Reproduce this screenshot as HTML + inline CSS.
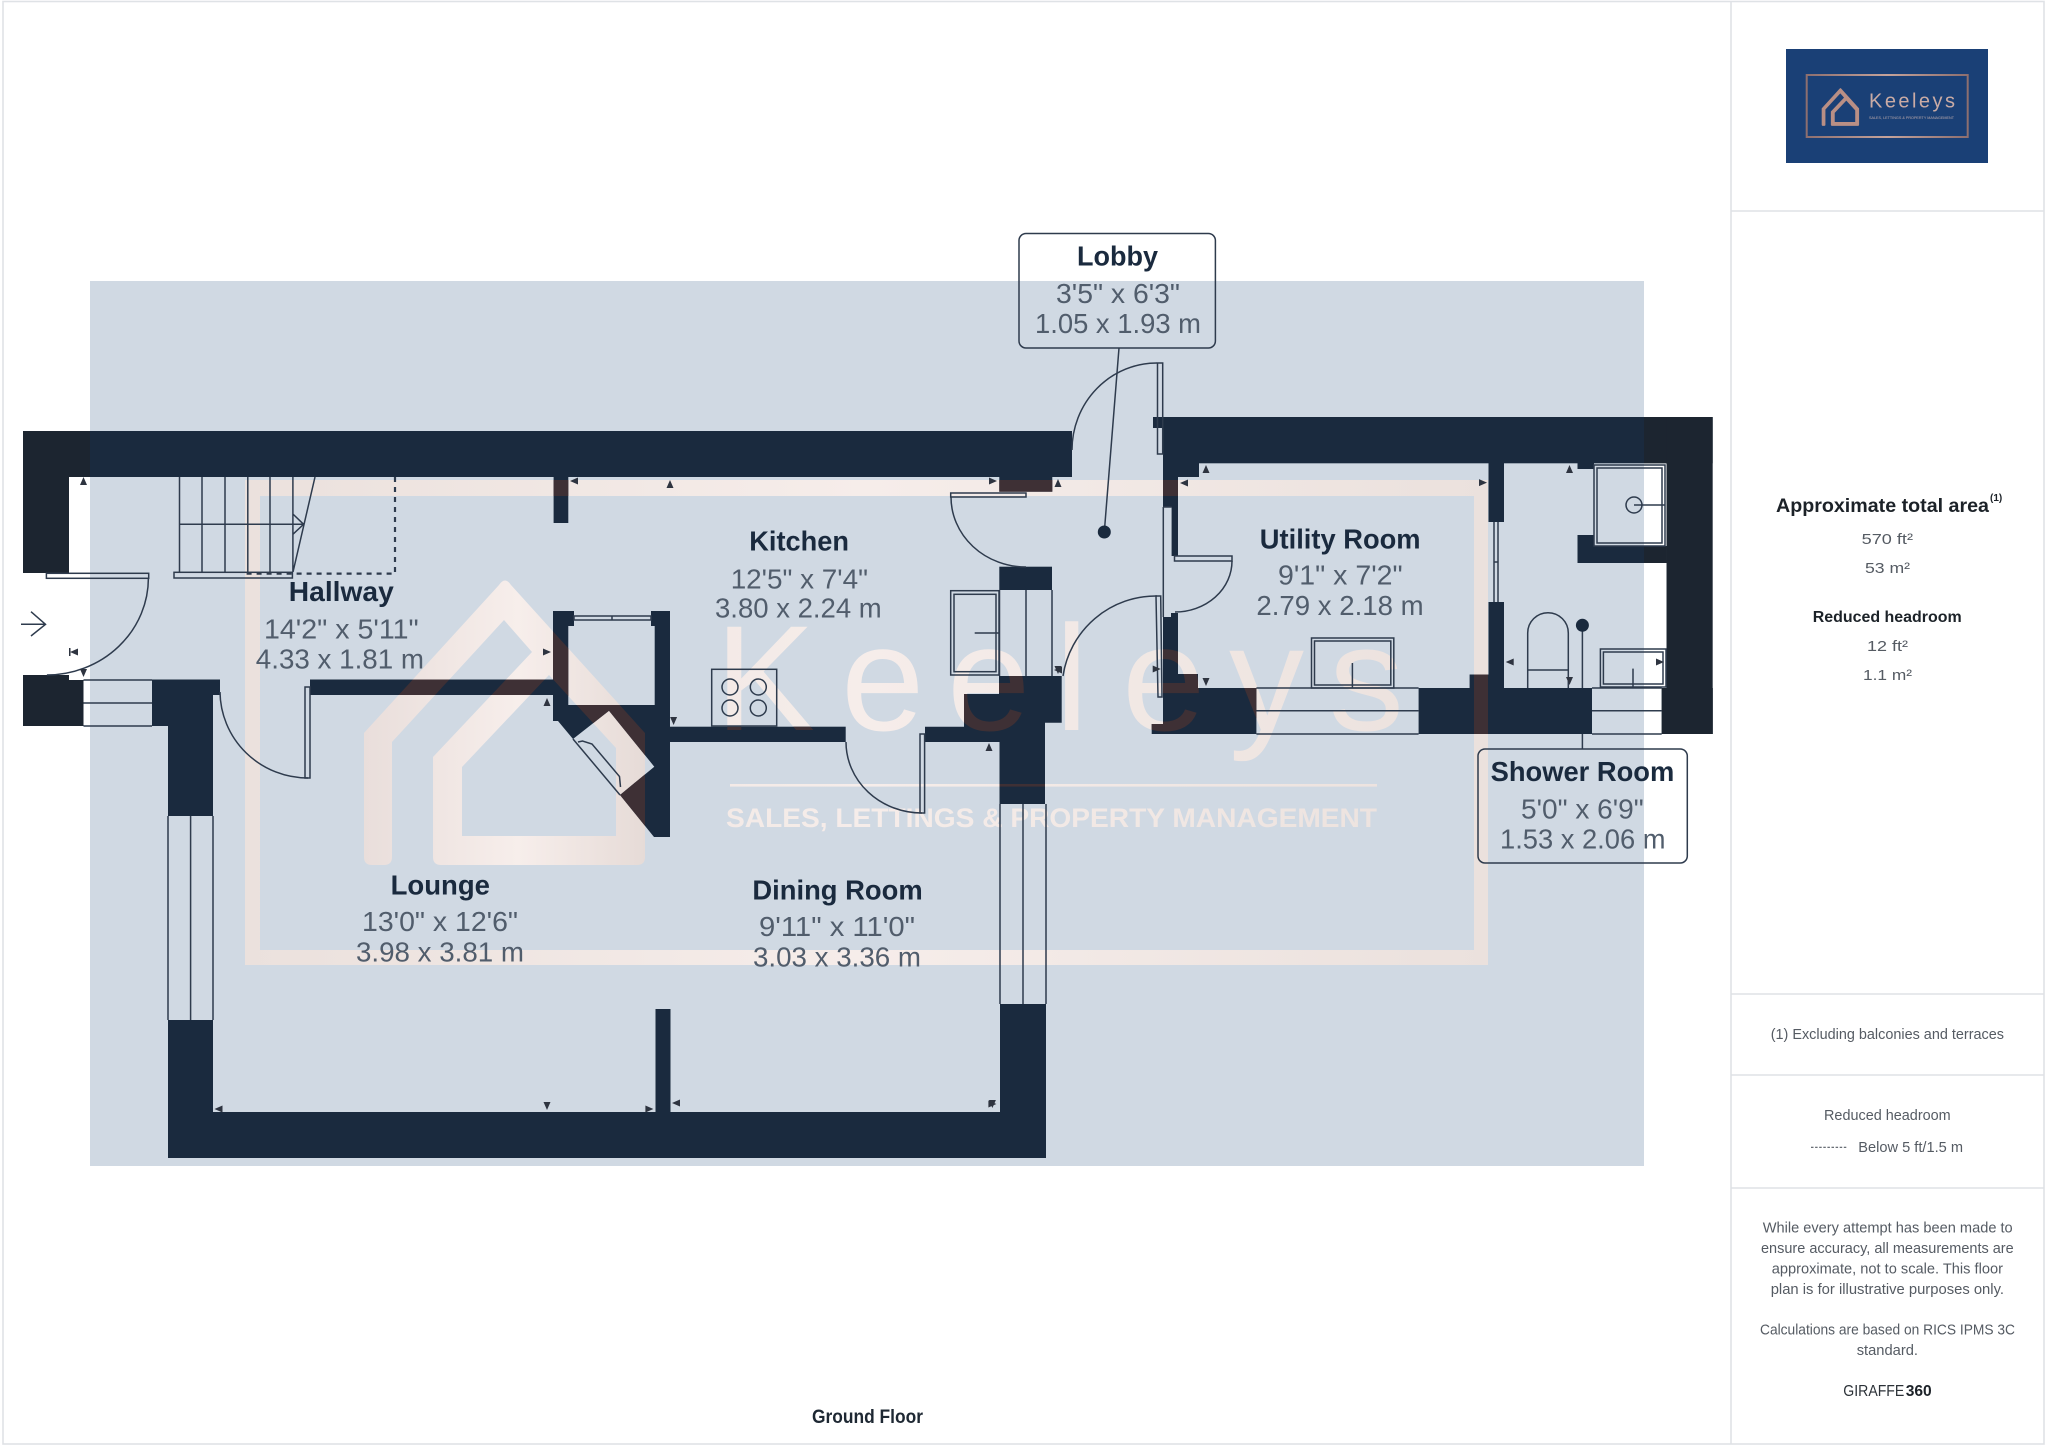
<!DOCTYPE html>
<html><head><meta charset="utf-8"><title>Ground Floor</title>
<style>
html,body{margin:0;padding:0;background:#fff}
svg{display:block}
text{font-family:"Liberation Sans",sans-serif}
.t{font-weight:bold;font-size:28px;fill:#1a2a3e}
.d{font-size:28px;fill:#515d6c}
.s{font-size:15px;fill:#555b63}
</style></head><body>
<svg xmlns="http://www.w3.org/2000/svg" width="2048" height="1446" viewBox="0 0 2048 1446">
<defs>
<linearGradient id="gf" gradientUnits="userSpaceOnUse" x1="245" y1="0" x2="1488" y2="0"><stop offset="0" stop-color="#ebe1dd"/><stop offset=".5" stop-color="#f6edea"/><stop offset="1" stop-color="#ebe1dd"/></linearGradient>
<linearGradient id="gh" gradientUnits="userSpaceOnUse" x1="364" y1="0" x2="645" y2="0"><stop offset="0" stop-color="#e9dedb"/><stop offset=".55" stop-color="#f7eeeb"/><stop offset="1" stop-color="#e6dbd7"/></linearGradient>
<linearGradient id="gl" gradientUnits="userSpaceOnUse" x1="1806" y1="0" x2="1968" y2="0"><stop offset="0" stop-color="#8d6f6f"/><stop offset=".5" stop-color="#c5a39b"/><stop offset="1" stop-color="#8d6f6f"/></linearGradient>
<clipPath id="outside"><rect x="0" y="0" width="90" height="1446"/><rect x="1644" y="0" width="404" height="1446"/></clipPath>
<g id="walls">
<rect x="23" y="431" width="1049" height="46"/>
<rect x="23" y="431" width="46" height="142"/>
<polygon points="23,675 69,675 69,680 83.5,680 83.5,726 23,726"/>
<polygon points="152,679.5 220,679.5 220,695 213,695 213,816 168,816 168,726 152,726"/>
<rect x="168" y="1020" width="45" height="138"/>
<rect x="168" y="1112" width="878" height="46"/>
<rect x="1000" y="1004" width="46" height="154"/>
<rect x="655.5" y="1009" width="15" height="103"/>
<rect x="310" y="679.5" width="244" height="15.5"/>
<rect x="553.6" y="477" width="14.7" height="46"/>
<polygon points="553,611 574,611 574,626 568.3,626 568.3,705 654.7,705 654.7,626 651,626 651,611 670,611 670,837 654,837 620,795 654.3,766.7 609,710.7 573,739 558,721 553,721"/>
<rect x="670" y="726.7" width="175.7" height="15.3"/>
<polygon points="999,676 1061.7,676 1061.7,722.7 1045,722.7 1045,804 999.5,804 999.5,742 925,742 925,726.7 964,726.7 964,694 999,694"/>
<rect x="999.3" y="566.7" width="52.7" height="23.3"/>
<rect x="999.3" y="477" width="53" height="14.7"/>
<rect x="1163" y="417" width="549.6" height="46.3"/>
<rect x="1153" y="417" width="10" height="11"/>
<rect x="1666.6" y="417" width="46" height="317"/>
<polygon points="1163,463 1199,463 1199,477 1178,477 1178,556 1171.6,556 1171.6,507 1163,507"/>
<polygon points="1163,617 1171,617 1171,613 1178,613 1178,674 1198,674 1198,688 1256.4,688 1256.4,734 1151.7,734 1151.7,724 1163,724"/>
<rect x="1418.6" y="688" width="173.4" height="46"/>
<rect x="1469.6" y="674.5" width="34.4" height="14"/>
<rect x="1488.5" y="463" width="15.5" height="59"/>
<rect x="1488.5" y="602" width="15.5" height="86"/>
<rect x="1661.7" y="688" width="51" height="46"/>
<polygon points="1577.5,535 1594,535 1594,546 1666.6,546 1666.6,563 1577.5,563"/>
<rect x="1577.5" y="463" width="16.5" height="6"/>
</g>
<mask id="wallmask" maskUnits="userSpaceOnUse" x="0" y="0" width="2048" height="1446"><use href="#walls" fill="#fff"/></mask>
<g id="house"><path fill-rule="evenodd" d="M499 585Q505 576 511 585L645 733V857Q645 865 637 865H441Q433 865 433 857V757L532 652L504 620L392 742V857Q392 865 384 865H372Q364 865 364 857V733ZM549 675L462 767V836H616V748Z"/></g>
<g id="wm">
<path fill-rule="evenodd" d="M245 480H1488V965H245ZM260 496V950H1474V496Z"/>
<rect x="730" y="784" width="647" height="2.6"/>
<text font-size="150" x="715 841 947 1055 1122 1229 1329" y="730">Keeleys</text>
<text font-size="27" font-weight="bold" x="726" y="827" textLength="651" lengthAdjust="spacingAndGlyphs">SALES, LETTINGS &amp; PROPERTY MANAGEMENT</text>
</g>
</defs>

<rect width="2048" height="1446" fill="#fff"/>
<rect x="90" y="281" width="1554" height="885" fill="#d0d9e3"/>
<use href="#wm" fill="url(#gf)"/>
<use href="#house" fill="url(#gh)"/>
<use href="#walls" fill="#1a2a3e"/>
<g clip-path="url(#outside)"><use href="#walls" fill="#1c2530"/></g>
<g mask="url(#wallmask)"><use href="#wm" fill="#3e3035"/><use href="#house" fill="#3e3035"/></g>

<g fill="none" stroke="#2e3b4d" stroke-width="1.5">
<!-- stairs -->
<path d="M179.5 477V572M202 477V572M225 477V572M247.8 477V572M270 477V572M292.9 477V572M179.5 524.3H303.6M292.9 514L303.6 524.3L292.9 534.3M315 477L293 572"/>
<rect x="174" y="572.3" width="118.4" height="5.7"/>
<path d="M395 477V573.6H243.3" stroke-width="2.2" stroke-dasharray="5 5"/>
<!-- entry door -->
<rect x="46.4" y="573.3" width="102.3" height="5"/>
<path d="M148.4 578A102 97 0 0 1 46.9 675"/>
<path d="M21 624.3H45.5M31 611.7L45.5 624.3L31 636"/>
<!-- entry window -->
<path d="M83.5 680H152M83.5 703H152M83.5 726H152"/>
<!-- left window -->
<path d="M168 816V1020M190.6 816V1020M213 816V1020"/>
<!-- hall door -->
<rect x="305" y="687" width="5" height="91"/>
<path d="M220 692A88 87 0 0 0 308 778"/>
<!-- closet -->
<path d="M574 616H651V620H574ZM612 616V620"/>
<path d="M573 739L620 795"/>
<path d="M578 742L582.5 741L592 744L619.5 776.5L620.5 787"/>
<!-- hob -->
<rect x="711.7" y="669.3" width="65" height="56.7"/>
<circle cx="730" cy="687" r="8"/><circle cx="758.3" cy="687" r="8"/><circle cx="730" cy="708" r="8"/><circle cx="758.3" cy="708" r="8"/>
<!-- kitchen/dining door -->
<rect x="920" y="734" width="4.6" height="79"/>
<path d="M846 742A76 71 0 0 0 922 813"/>
<!-- right window -->
<path d="M1000 804V1004M1023 804V1004M1046 804V1004"/>
<!-- appliance -->
<rect x="950.7" y="590.7" width="48.3" height="84.3"/>
<rect x="954" y="594.3" width="42" height="77.4"/>
<path d="M974.7 633H999M999.5 590V676M1026 590V676M1052 590V676"/>
<!-- kitchen/lobby door -->
<rect x="950.7" y="493" width="75.3" height="4"/>
<path d="M951 497A75 70 0 0 0 1026 567"/>
<!-- lobby top door -->
<rect x="1157.5" y="363" width="5.2" height="91"/>
<path d="M1072 450A85 87 0 0 1 1157 363"/>
<!-- utility door -->
<rect x="1174.5" y="556" width="57.5" height="5"/>
<path d="M1232 561A57 51 0 0 1 1175 612"/>
<!-- lobby lower door -->
<path d="M1156 596H1160.7L1162 697H1158Z"/>
<path d="M1157 596A94 94 0 0 0 1063 676"/>
<path d="M1163.3 507V617M1171.7 507H1163.3"/>
<!-- utility window + washer -->
<path d="M1256.4 688H1418.6M1256.4 710.7H1418.6M1256.4 734H1418.6"/>
<rect x="1311.5" y="638" width="82.3" height="50"/>
<rect x="1314.5" y="641" width="76.3" height="44"/>
<path d="M1352.4 663V688"/>
<!-- partition slider -->
<path d="M1494 522V602M1498 522V602M1494 562H1498"/>
<!-- shower -->
<rect x="1594" y="465" width="71" height="81"/>
<rect x="1597" y="468" width="65" height="75"/>
<circle cx="1634" cy="505" r="8"/><path d="M1634 505H1665"/>
<!-- toilet -->
<path d="M1527.7 688V633A20.3 20.3 0 0 1 1568.3 633V688M1527.7 670H1568.3"/>
<!-- basin -->
<rect x="1600.4" y="649" width="65.6" height="38"/>
<rect x="1603.4" y="652" width="59.6" height="32"/>
<path d="M1633 668.6V687"/>
<!-- shower window -->
<path d="M1592 688H1661.7M1592 710.7H1661.7M1592 734H1661.7"/>
<!-- pins -->
<path d="M1582.4 625V688M1582.4 734V749M1119 348L1104.3 532"/>
<!-- label boxes -->
<rect x="1478" y="749" width="209.3" height="114" rx="7"/>
<rect x="1019" y="233.5" width="196.4" height="114.5" rx="7"/>
</g>
<circle cx="1104.3" cy="532" r="6.5" fill="#1a2a3e"/>
<circle cx="1582.4" cy="625.3" r="6.5" fill="#1a2a3e"/>

<!-- dimension arrows -->
<g fill="#2e3440">
<path d="M83.5 477l-3.5 8h7zM547 698l-3.5 8h7zM670 480l-3.5 8h7zM1058 479l-3.5 8h7zM989 743l-3.5 8h7zM1206 465l-3.5 8h7zM1569.5 465l-3.5 8h7z"/>
<path d="M83.5 677l-3.5-8h7zM673.6 725l-3.5-8h7zM1206 686l-3.5-8h7zM1569.5 685l-3.5-8h7zM547 1110l-3.5-8h7zM1058 674l-3.5-8h7zM992.4 1108l-3.5-8h7z"/>
<path d="M70 652l8-3.5v7zM570 481l8-3.5v7zM1180 483l8-3.5v7zM1505.7 662l8-3.5v7zM214.5 1109l8-3.5v7zM672 1103l8-3.5v7zM1054 670l8-3.5v7z"/>
<path d="M551 652l-8-3.5v7zM997 481l-8-3.5v7zM1160.7 669l-8-3.5v7zM1487 482.6l-8-3.5v7zM1664 662l-8-3.5v7zM653.4 1109l-8-3.5v7zM996.4 1104l-8-3.5v7z"/>
<rect x="69" y="648" width="1.5" height="8"/>
</g>

<!-- room labels -->
<text class="t" x="288.8" y="601" textLength="105" lengthAdjust="spacingAndGlyphs">Hallway</text>
<text class="d" x="264" y="638.3" textLength="154.7" lengthAdjust="spacingAndGlyphs">14'2" x 5'11"</text>
<text class="d" x="255.8" y="668.3" textLength="168.2" lengthAdjust="spacingAndGlyphs">4.33 x 1.81 m</text>

<text class="t" x="749.3" y="550.7" textLength="99.7" lengthAdjust="spacingAndGlyphs">Kitchen</text>
<text class="d" x="730.7" y="588.3" textLength="137.3" lengthAdjust="spacingAndGlyphs">12'5" x 7'4"</text>
<text class="d" x="715" y="617.7" textLength="166.7" lengthAdjust="spacingAndGlyphs">3.80 x 2.24 m</text>

<text class="t" x="390.6" y="894.3" textLength="99.4" lengthAdjust="spacingAndGlyphs">Lounge</text>
<text class="d" x="362" y="931" textLength="156" lengthAdjust="spacingAndGlyphs">13'0" x 12'6"</text>
<text class="d" x="356" y="961.7" textLength="168" lengthAdjust="spacingAndGlyphs">3.98 x 3.81 m</text>

<text class="t" x="752.4" y="899.3" textLength="170.3" lengthAdjust="spacingAndGlyphs">Dining Room</text>
<text class="d" x="759" y="936" textLength="156" lengthAdjust="spacingAndGlyphs">9'11" x 11'0"</text>
<text class="d" x="753" y="966.7" textLength="168" lengthAdjust="spacingAndGlyphs">3.03 x 3.36 m</text>

<text class="t" x="1259.8" y="548.3" textLength="160.8" lengthAdjust="spacingAndGlyphs">Utility Room</text>
<text class="d" x="1278" y="584.5" textLength="124.6" lengthAdjust="spacingAndGlyphs">9'1" x 7'2"</text>
<text class="d" x="1256.4" y="614.8" textLength="167.2" lengthAdjust="spacingAndGlyphs">2.79 x 2.18 m</text>

<text class="t" x="1490.6" y="781" textLength="183.7" lengthAdjust="spacingAndGlyphs">Shower Room</text>
<text class="d" x="1521" y="818.5" textLength="122.7" lengthAdjust="spacingAndGlyphs">5'0" x 6'9"</text>
<text class="d" x="1500" y="848.3" textLength="165.5" lengthAdjust="spacingAndGlyphs">1.53 x 2.06 m</text>

<text class="t" x="1077" y="265.5" textLength="81" lengthAdjust="spacingAndGlyphs">Lobby</text>
<text class="d" x="1056" y="303" textLength="124" lengthAdjust="spacingAndGlyphs">3'5" x 6'3"</text>
<text class="d" x="1035" y="332.8" textLength="166" lengthAdjust="spacingAndGlyphs">1.05 x 1.93 m</text>

<text x="812" y="1423" font-size="19" font-weight="bold" fill="#1e2833" textLength="111" lengthAdjust="spacingAndGlyphs">Ground Floor</text>

<!-- sidebar frame -->
<g fill="none" stroke="#dfe2e6" stroke-width="1.6">
<rect x="3" y="1.5" width="2041" height="1442.5"/>
<path d="M1731 1.5V1444M1731 211H2044M1731 994H2044M1731 1075H2044M1731 1188H2044"/>
</g>

<!-- logo -->
<rect x="1786" y="49" width="202" height="114" fill="#1a4076"/>
<rect x="1806.7" y="75" width="161" height="62" fill="none" stroke="url(#gl)" stroke-width="2"/>
<g transform="translate(1821.7 88) scale(.133) translate(-364 -580)" fill="#b98f85"><use href="#house"/></g>
<text x="1869" y="107.5" font-size="20" fill="#c9aba5" textLength="86" lengthAdjust="spacing">Keeleys</text>
<text x="1869" y="119" font-size="4" fill="#bcaaac" textLength="85" lengthAdjust="spacingAndGlyphs">SALES, LETTINGS &amp; PROPERTY MANAGEMENT</text>

<!-- sidebar text -->
<text x="1776" y="512" font-size="19" font-weight="bold" fill="#1c2228" textLength="213" lengthAdjust="spacingAndGlyphs">Approximate total area</text>
<text x="1990" y="501" font-size="10" font-weight="bold" fill="#1c2228">(1)</text>
<text class="s" x="1861.7" y="544" textLength="51.3" lengthAdjust="spacingAndGlyphs">570 ft²</text>
<text class="s" x="1865" y="573" textLength="45" lengthAdjust="spacingAndGlyphs">53 m²</text>
<text x="1812.7" y="622" font-size="16" font-weight="bold" fill="#1c2228" textLength="149" lengthAdjust="spacingAndGlyphs">Reduced headroom</text>
<text class="s" x="1867" y="651" textLength="41" lengthAdjust="spacingAndGlyphs">12 ft²</text>
<text class="s" x="1863" y="680" textLength="49" lengthAdjust="spacingAndGlyphs">1.1 m²</text>
<text class="s" x="1770.7" y="1039" textLength="233.3" lengthAdjust="spacingAndGlyphs">(1) Excluding balconies and terraces</text>
<text class="s" x="1824" y="1120" textLength="126.7" lengthAdjust="spacingAndGlyphs">Reduced headroom</text>
<path d="M1811 1147.3H1846.7" stroke="#555b63" stroke-width="1.2" stroke-dasharray="2.5 1.6" fill="none"/>
<text class="s" x="1858.3" y="1152" textLength="104.7" lengthAdjust="spacingAndGlyphs">Below 5 ft/1.5 m</text>
<text class="s" x="1762.7" y="1232.7" textLength="250" lengthAdjust="spacingAndGlyphs">While every attempt has been made to</text>
<text class="s" x="1761" y="1253" textLength="252.7" lengthAdjust="spacingAndGlyphs">ensure accuracy, all measurements are</text>
<text class="s" x="1771.7" y="1273.3" textLength="231.3" lengthAdjust="spacingAndGlyphs">approximate, not to scale. This floor</text>
<text class="s" x="1770.7" y="1294" textLength="233.3" lengthAdjust="spacingAndGlyphs">plan is for illustrative purposes only.</text>
<text class="s" x="1760" y="1334.7" textLength="255" lengthAdjust="spacingAndGlyphs">Calculations are based on RICS IPMS 3C</text>
<text class="s" x="1856.7" y="1355" textLength="61.3" lengthAdjust="spacingAndGlyphs">standard.</text>
<text x="1843.3" y="1396" font-size="16" fill="#2c3238" textLength="61" lengthAdjust="spacingAndGlyphs">GIRAFFE</text>
<text x="1905.7" y="1396" font-size="16" font-weight="bold" fill="#1c2228" textLength="26" lengthAdjust="spacingAndGlyphs">360</text>
</svg>
</body></html>
